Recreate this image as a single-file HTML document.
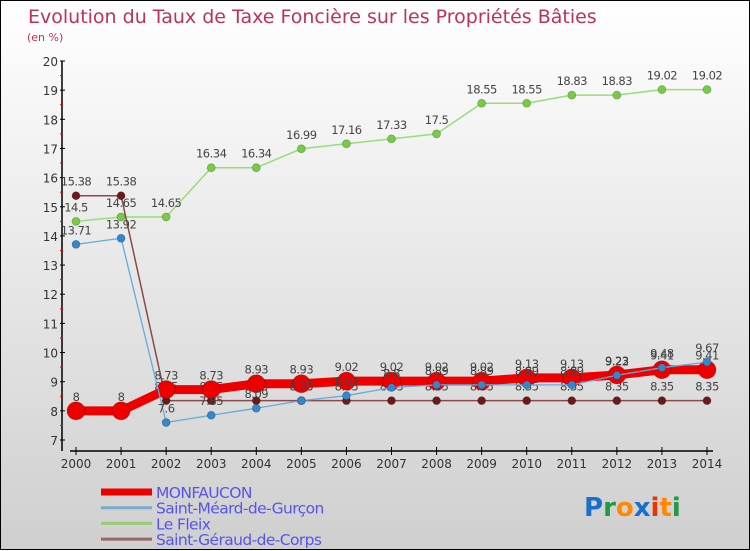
<!DOCTYPE html>
<html><head><meta charset="utf-8">
<style>
html,body{margin:0;padding:0;}
body{width:750px;height:550px;overflow:hidden;font-family:"DejaVu Sans","Liberation Sans",sans-serif;}
#wrap{position:relative;width:748px;height:548px;border:1px solid #000;background:linear-gradient(#ffffff,#cfcfcf);}
svg{position:absolute;left:0;top:0;}
</style></head>
<body>
<div id="wrap">
<svg id="chart" width="750" height="550"></svg>
</div>
<script>
const years = [2000,2001,2002,2003,2004,2005,2006,2007,2008,2009,2010,2011,2012,2013,2014];
const yTicks = [7,8,9,10,11,12,13,14,15,16,17,18,19,20];
const monfaucon = [8,8,8.73,8.73,8.93,8.93,9.02,9.02,9.02,9.02,9.13,9.13,9.23,9.41,9.41];
const saintMeard = [13.71,13.92,7.6,7.85,8.09,8.35,8.52,8.8,8.89,8.89,8.89,8.89,9.22,9.48,9.67];
const leFleix = [14.5,14.65,14.65,16.34,16.34,16.99,17.16,17.33,17.5,18.55,18.55,18.83,18.83,19.02,19.02];
const saintGeraud = [15.38,15.38,8.35,8.35,8.35,8.35,8.35,8.35,8.35,8.35,8.35,8.35,8.35,8.35,8.35];
const seriesNames = ["MONFAUCON","Saint-Méard-de-Gurçon","Le Fleix","Saint-Géraud-de-Corps"];

const NS="http://www.w3.org/2000/svg";
const svg=document.getElementById('chart');
const x0=75,x1=706,yTop=60,yBot=439,vMin=7,vMax=20;
function xs(i){return x0+(x1-x0)*i/(years.length-1);}
function ys(v){return yBot-(v-vMin)*(yBot-yTop)/(vMax-vMin);}
function mk(tag,attrs,parent){const e=document.createElementNS(NS,tag);for(const k in attrs)e.setAttribute(k,attrs[k]);(parent||svg).appendChild(e);return e;}

let t=mk('text',{x:27,y:22,'font-size':19,fill:'#c0305a'});t.textContent="Evolution du Taux de Taxe Foncière sur les Propriétés Bâties";

t=mk('text',{x:26,y:40,'font-size':11,fill:'#c0305a'});t.textContent="(en %)";


// y axis
let ax=mk('g',{});
mk('line',{x1:61,y1:yTop,x2:61,y2:yBot+11,stroke:'#000','stroke-width':1.5},ax);
yTicks.forEach(v=>{
  const y=ys(v);
  mk('line',{x1:59,y1:y,x2:64,y2:y,stroke:'#000'},ax);
  if(v<vMax){const ym=ys(v+0.5);mk('line',{x1:59,y1:ym,x2:62,y2:ym,stroke:'#e00'},ax);}
  const tx=mk('text',{x:57,y:y+5,'font-size':12,fill:'#333','text-anchor':'end'},ax);tx.textContent=v;
  
});
// x axis
let xa=mk('g',{});
mk('line',{x1:x0-6,y1:450,x2:x1+6,y2:450,stroke:'#000','stroke-width':1.5},xa);
years.forEach((yr,i)=>{
  const x=xs(i);
  mk('line',{x1:x,y1:446,x2:x,y2:454,stroke:'#000'},xa);
  const tx=mk('text',{x:x,y:467,'font-size':12,fill:'#333','text-anchor':'middle'},xa);tx.textContent=yr;
  
});

function drawSeries(data,color,width,r,dotColor,name){
  const g=mk('g',{});
  mk('polyline',{points:data.map((v,i)=>xs(i)+','+ys(v)).join(' '),fill:'none',stroke:color,'stroke-width':width,'stroke-linejoin':'round'},g);
  data.forEach((v,i)=>{
    const c=mk('circle',{cx:xs(i),cy:ys(v),r:r,fill:dotColor,stroke:'rgba(0,0,0,0.25)','stroke-width':0.8},g);
    
  });
  data.forEach((v,i)=>{
    const tx=mk('text',{x:xs(i),y:ys(v)-10,'font-size':11.5,fill:'#444','text-anchor':'middle','letter-spacing':'-0.5'},g);
    tx.textContent=v;
    
  });
}
drawSeries(leFleix,'#99dd77',1.5,4,'#77cc44','series-le-fleix');
drawSeries(saintGeraud,'#8a4a4a',1.5,4,'#6a1a1a','series-saint-geraud');
drawSeries(monfaucon,'#ee0000',9,9,'#ee0000','series-monfaucon');
drawSeries(saintMeard,'#66aadd',1.3,4,'#3388cc','series-saint-meard');

// legend
const legColors=['#ee0000','#77aacc','#99cc77','#996666'];
const legW=[7,3,3,3];
seriesNames.forEach((n,i)=>{
  const g=mk('g',{});
  const y=491+i*15.7;
  mk('line',{x1:100,y1:y,x2:151,y2:y,stroke:legColors[i],'stroke-width':legW[i]},g);
  const tx=mk('text',{x:155,y:y+6,'font-size':15.5,fill:'#5555ee','letter-spacing':'-0.6'},g);tx.textContent=n;
});
// logo
const lg=mk('text',{x:583,y:515,'font-size':26,'font-weight':'bold','font-family':'"DejaVu Sans",sans-serif'});

[['P','#1a6fcc'],['r','#229944'],['o','#ff8800'],['x','#1a6fcc'],['i','#ee3300'],['t','#ff8800'],['i','#229944']].forEach(([c,col])=>{
  const s=mk('tspan',{fill:col},lg);s.textContent=c;
});
</script>
</body></html>
